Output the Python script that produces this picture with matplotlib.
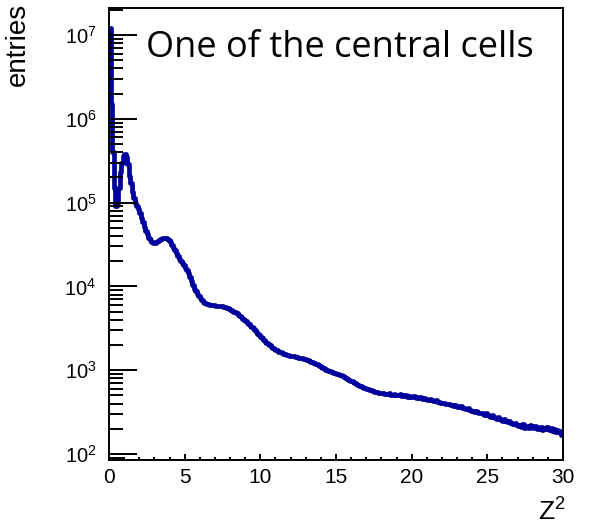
import numpy as np
import matplotlib
matplotlib.use("Agg")
from matplotlib import pyplot as plt
from matplotlib.ticker import LogLocator, MultipleLocator, NullFormatter

# histogram contents, 300 bins of width 0.1 on Z^2 in [0, 30]
z2_lo, z2_hi, n_bins = 0.0, 30.0, 300
entries = [
    1.2e7, 1.5e6, 4.0e5, 1.5e5, 9.0e4, 1.0e5, 1.5e5, 2.3e5, 3.0e5, 3.6e5,
    3.8e5, 3.5e5, 2.9e5, 2.1e5, 1.7e5, 1.35e5, 1.12e5, 1.0e5, 9.2e4, 8.5e4,
    7.6e4, 6.6e4, 5.8e4, 5.1e4, 4.6e4, 4.2e4, 3.8e4, 3.55e4, 3.4e4, 3.3e4,
    3.3e4, 3.35e4, 3.45e4, 3.55e4, 3.65e4, 3.75e4, 3.8e4, 3.8e4, 3.7e4, 3.55e4,
    3.4e4, 3.15e4, 2.9e4, 2.7e4, 2.5e4, 2.3e4, 2.15e4, 2.0e4, 1.9e4, 1.78e4,
    1.68e4, 1.58e4, 1.45e4, 1.3e4, 1.15e4, 1.03e4, 9.4e3, 8.7e3, 8.1e3, 7.7e3,
    7.3e3, 6.9e3, 6.6e3, 6.4e3, 6.2e3, 6.1e3, 6.05e3, 6.0e3, 5.95e3, 5.95e3,
    5.9e3, 5.9e3, 5.85e3, 5.8e3, 5.8e3, 5.7e3, 5.65e3, 5.55e3, 5.5e3, 5.4e3,
    5.3e3, 5.15e3, 5.0e3, 4.9e3, 4.8e3, 4.6e3, 4.45e3, 4.3e3, 4.1e3, 4.0e3,
    3.85e3, 3.7e3, 3.55e3, 3.4e3, 3.3e3, 3.15e3, 3.0e3, 2.85e3, 2.7e3, 2.6e3,
    2.5e3, 2.4e3, 2.3e3, 2.2e3, 2.1e3, 2.05e3, 1.98e3, 1.9e3, 1.85e3, 1.8e3,
    1.76e3, 1.72e3, 1.67e3, 1.64e3, 1.6e3, 1.58e3, 1.55e3, 1.53e3, 1.5e3, 1.49e3,
    1.48e3, 1.46e3, 1.47e3, 1.44e3, 1.43e3, 1.41e3, 1.40e3, 1.39e3, 1.37e3, 1.36e3,
    1.33e3, 1.31e3, 1.30e3, 1.27e3, 1.24e3, 1.22e3, 1.20e3, 1.17e3, 1.15e3, 1.12e3,
    1.10e3, 1.07e3, 1.05e3, 1.01e3, 1.0e3, 980, 965, 950, 935, 920,
    905, 890, 880, 865, 850, 830, 810, 790, 770, 750,
    740, 725, 705, 690, 670, 655, 645, 630, 620, 610,
    600, 595, 580, 575, 565, 555, 550, 545, 540, 535,
    530, 540, 520, 525, 515, 530, 510, 505, 520, 510,
    505, 500, 515, 495, 490, 505, 500, 485, 495, 485,
    480, 490, 475, 470, 465, 475, 460, 455, 465, 450,
    445, 440, 455, 435, 430, 425, 435, 420, 415, 410,
    405, 410, 395, 390, 400, 385, 380, 375, 385, 370,
    365, 360, 370, 355, 350, 345, 340, 350, 335, 330,
    325, 320, 330, 315, 310, 305, 310, 300, 295, 305,
    290, 285, 280, 290, 275, 270, 265, 275, 260, 255,
    250, 260, 245, 240, 245, 235, 230, 225, 235, 220,
    215, 220, 210, 225, 205, 215, 210, 205, 220, 210,
    205, 215, 210, 200, 205, 210, 195, 205, 200, 210,
    200, 195, 205, 190, 200, 185, 195, 190, 180, 170,
]
title = "One of the central cells"

plt.rcParams['font.family'] = ['Liberation Sans', 'DejaVu Sans']
plt.rcParams['mathtext.default'] = 'regular'

fig = plt.figure(figsize=(5.9, 5.27), dpi=100)
ax = fig.add_axes([109 / 590, 1 - 460 / 527, 454 / 590, 452 / 527])

edges = np.linspace(z2_lo, z2_hi, n_bins + 1)
ax.stairs(entries, edges, color='#00009c', linewidth=3.4, baseline=None,
          joinstyle='round', capstyle='round')

ax.set_yscale('log')
ax.set_xlim(z2_lo, z2_hi)
ax.set_ylim(84.8, 2.1e7)

ax.xaxis.set_major_locator(MultipleLocator(5))
ax.xaxis.set_minor_locator(MultipleLocator(1))
ax.yaxis.set_major_locator(LogLocator(base=10, numticks=20))
ax.yaxis.set_minor_locator(LogLocator(base=10, subs=np.arange(2, 10), numticks=20))
ax.yaxis.set_minor_formatter(NullFormatter())

ax.tick_params(axis='y', which='major', direction='in', length=20, width=1.4,
               labelsize=14.5, pad=9)
ax.tick_params(axis='y', which='minor', direction='in', length=10, width=1.4)
ax.tick_params(axis='x', which='major', direction='in', length=4.5, width=1.4,
               labelsize=15, pad=6)
ax.tick_params(axis='x', which='minor', direction='in', length=2.5, width=1.4)
for s in ax.spines.values():
    s.set_linewidth(1.4)

fig.text(18 / 590, 1 - 3 / 527, 'entries', rotation=90, ha='center', va='top',
         fontsize=20)
fig.text(566 / 590, 1 - 521 / 527, '$Z^{2}$', ha='right', va='baseline',
         fontsize=19)
fig.text(146 / 590, 1 - 57 / 527, title, ha='left', va='baseline',
         fontsize=26, family=['Open Sans', 'DejaVu Sans'])

fig.savefig('out.png', dpi=100)
